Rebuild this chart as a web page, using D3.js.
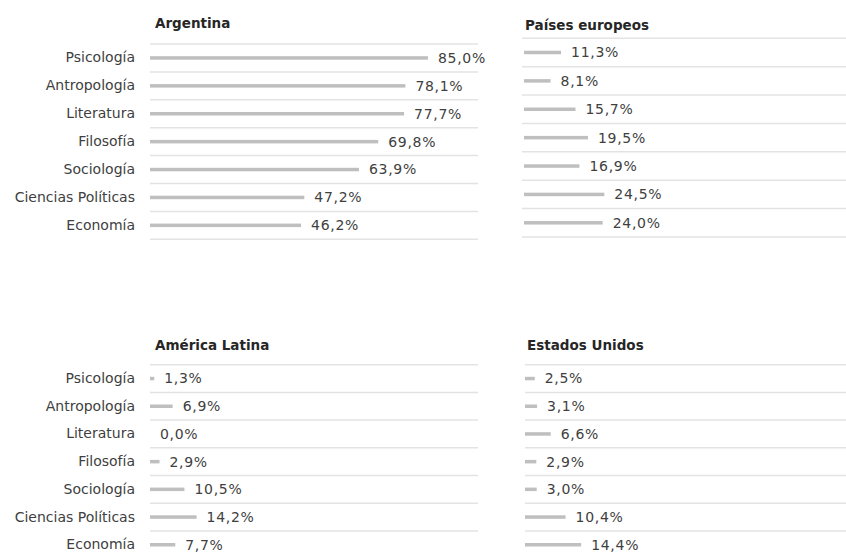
<!DOCTYPE html>
<html>
<head>
<meta charset="utf-8">
<script src="https://cdn.jsdelivr.net/npm/d3@7"></script>
<style>
  html, body { margin: 0; padding: 0; background: #ffffff; }
  svg { display: block; }
</style>
</head>
<body>
<div id="chart"></div>
<script>
// ---- Data ----
const categories = ["Psicología", "Antropología", "Literatura", "Filosofía", "Sociología", "Ciencias Políticas", "Economía"];
const panelTitles = ["Argentina", "Países europeos", "América Latina", "Estados Unidos"];
const argentina = [85.0, 78.1, 77.7, 69.8, 63.9, 47.2, 46.2];
const europa = [11.3, 8.1, 15.7, 19.5, 16.9, 24.5, 24.0];
const latam = [1.3, 6.9, 0.0, 2.9, 10.5, 14.2, 7.7];
const eeuu = [2.5, 3.1, 6.6, 2.9, 3.0, 10.4, 14.4];

// ---- Layout ----
const W = 846, H = 553;
const panels = [
  { title: panelTitles[0], values: argentina, showCats: true,  titleX: 155, titleY: 23, top: 44,    bottom: 239.3, zero: 150, pxPerPct: 3.27, gridX0: 150, gridX1: 478 },
  { title: panelTitles[1], values: europa,    showCats: false, titleX: 525, titleY: 25, top: 38.3,  bottom: 237,   zero: 524, pxPerPct: 3.28, gridX0: 522, gridX1: 846 },
  { title: panelTitles[2], values: latam,     showCats: true,  titleX: 155, titleY: 345, top: 364.7, bottom: 558.6, zero: 150, pxPerPct: 3.28, gridX0: 150, gridX1: 478 },
  { title: panelTitles[3], values: eeuu,      showCats: false, titleX: 527, titleY: 345, top: 364.7, bottom: 558.6, zero: 525, pxPerPct: 3.9,  gridX0: 525, gridX1: 846 }
];

const locale = d3.formatLocale({ decimal: ",", thousands: ".", grouping: [3], currency: ["", "€"] });
const fmt = v => locale.format(".1f")(v) + "%";

const svg = d3.select("#chart").append("svg")
  .attr("width", W).attr("height", H)
  .style("font-family", "'DejaVu Sans', sans-serif");

panels.forEach(p => {
  const g = svg.append("g");
  const x = d3.scaleLinear().domain([0, 100]).range([p.zero, p.zero + p.pxPerPct * 100]);
  const y = d3.scaleBand().domain(categories).range([p.top, p.bottom]).padding(0);

  // gridlines at band boundaries
  const bounds = categories.map(c => y(c)).concat([y(categories[categories.length - 1]) + y.bandwidth()]);
  g.selectAll("line.grid").data(bounds).join("line")
    .attr("class", "grid")
    .attr("x1", p.gridX0).attr("x2", p.gridX1)
    .attr("y1", d => d).attr("y2", d => d)
    .attr("stroke", "#e3e3e3").attr("stroke-width", 1.5);

  // title
  g.append("text")
    .attr("x", p.titleX).attr("y", p.titleY).attr("dy", "0.35em")
    .attr("fill", "#262626")
    .style("font-size", "13.5px").style("font-weight", "bold")
    .text(p.title);

  // category axis
  if (p.showCats) {
    const ax = g.append("g")
      .attr("transform", `translate(${p.zero},0)`)
      .call(d3.axisLeft(y).tickSize(0).tickPadding(15));
    ax.select(".domain").remove();
    ax.selectAll("text")
      .attr("fill", "#404040")
      .style("font-size", "14px")
      .style("font-family", "'DejaVu Sans', sans-serif");
  }

  const rows = categories.map((c, i) => ({ c, v: p.values[i] }));
  const barH = 3.5;

  g.selectAll("rect.bar").data(rows).join("rect")
    .attr("class", "bar")
    .attr("x", x(0))
    .attr("y", d => y(d.c) + y.bandwidth() / 2 - barH / 2)
    .attr("width", d => x(d.v) - x(0))
    .attr("height", barH)
    .attr("fill", "#bfbfbf");

  g.selectAll("text.val").data(rows).join("text")
    .attr("class", "val")
    .attr("x", d => x(d.v) + 10)
    .attr("y", d => y(d.c) + y.bandwidth() / 2)
    .attr("dy", "0.35em")
    .attr("fill", "#404040")
    .style("font-size", "14px")
    .style("letter-spacing", "0.7px")
    .text(d => fmt(d.v));
});
</script>
</body>
</html>
